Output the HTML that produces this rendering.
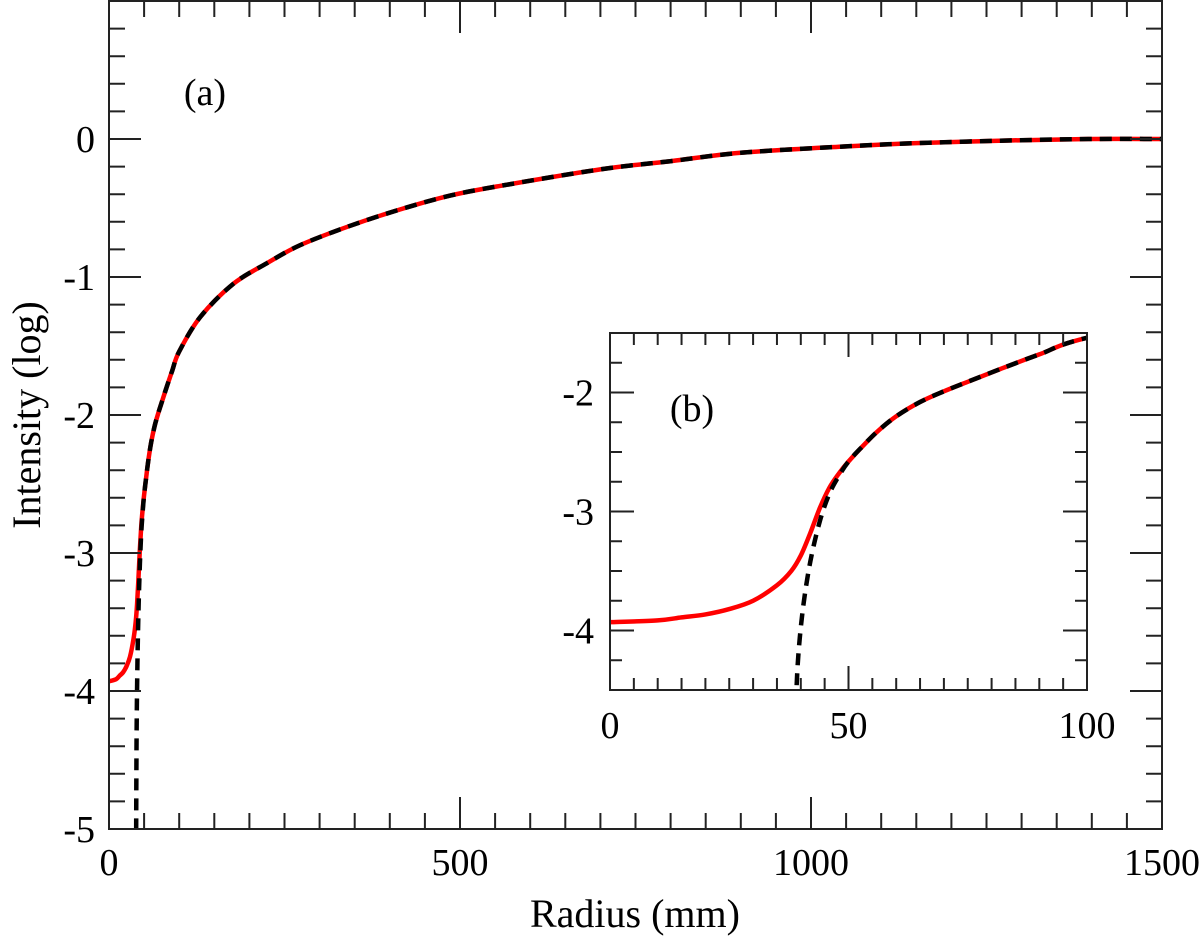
<!DOCTYPE html>
<html><head><meta charset="utf-8"><style>
html,body{margin:0;padding:0;background:#fff;}
svg{display:block;font-family:"Liberation Serif",serif;}
</style></head><body>
<svg id="chart" width="1200" height="943" viewBox="0 0 1200 943" xmlns="http://www.w3.org/2000/svg">
<defs>
<clipPath id="clipMain"><rect x="109" y="1" width="1053" height="828"/></clipPath>
<clipPath id="clipInset"><rect x="610" y="333" width="477" height="357"/></clipPath>
</defs>
<g id="main"></g>
<g id="inset"></g>
<text x="205" y="105" font-size="38" text-anchor="middle">(a)</text>
<text x="692" y="421" font-size="38" text-anchor="middle">(b)</text>
<text x="635" y="927" font-size="40" text-anchor="middle">Radius (mm)</text>
<text transform="translate(40,415) rotate(-90)" font-size="40" text-anchor="middle">Intensity (log)</text>
</svg>
<script>
// Data
const redR = [0,10,15,20,25,30,35,38,40,42,44,46,48,50,53,56,60,65,70,75,82,90,100,130,177,225,272,343,415,486,557,700,801,900,1044,1150,1288,1400,1500];
const redY = [-3.93,-3.915,-3.89,-3.865,-3.82,-3.75,-3.62,-3.5,-3.37,-3.18,-2.97,-2.8,-2.68,-2.58,-2.45,-2.33,-2.2,-2.08,-1.99,-1.91,-1.80,-1.68,-1.54,-1.29,-1.05,-0.90,-0.77,-0.63,-0.51,-0.41,-0.34,-0.22,-0.16,-0.10,-0.055,-0.03,-0.01,0,0];
const blackR = [38.5,39,39.5,40.5,42,44,46,48,50,53,56,60,65,70,75,82,90,100,130,177,225,272,343,415,486,557,700,801,900,1044,1150,1288,1400,1500];
const blackY = [-5.3,-4.6,-4.2,-3.8,-3.42,-3.08,-2.85,-2.7,-2.58,-2.45,-2.33,-2.2,-2.08,-1.99,-1.91,-1.80,-1.68,-1.54,-1.29,-1.05,-0.90,-0.77,-0.63,-0.51,-0.41,-0.34,-0.22,-0.16,-0.10,-0.055,-0.03,-0.01,0,0];
const mainXTicks = [0,500,1000,1500];
const mainYTicks = [0,-1,-2,-3,-4,-5];
const insetXTicks = [0,50,100];
const insetYTicks = [-2,-3,-4];

const NS="http://www.w3.org/2000/svg";
function mk(parent,tag,attrs){const e=document.createElementNS(NS,tag);for(const k in attrs)e.setAttribute(k,attrs[k]);parent.appendChild(e);return e;}

function smoothPath(p){
  let d="M"+p[0][0].toFixed(2)+","+p[0][1].toFixed(2);
  for(let i=0;i<p.length-1;i++){
    const p0=p[i-1]||p[i],p1=p[i],p2=p[i+1],p3=p[i+2]||p2;
    const c1x=p1[0]+(p2[0]-p0[0])/6,c1y=p1[1]+(p2[1]-p0[1])/6;
    const c2x=p2[0]-(p3[0]-p1[0])/6,c2y=p2[1]-(p3[1]-p1[1])/6;
    d+=`C${c1x.toFixed(2)},${c1y.toFixed(2)} ${c2x.toFixed(2)},${c2y.toFixed(2)} ${p2[0].toFixed(2)},${p2[1].toFixed(2)}`;
  }
  return d;
}

function drawAxes(g,cfg){
  const {x0,x1,y0,y1,xmin,xmax,ymin,ymax,xMinor,yMinor,majLen,minLen,xTicks,yTicks,clip,name,labDy,labDx}=cfg;
  const sx=v=>x0+(v-xmin)/(xmax-xmin)*(x1-x0);
  const sy=v=>y1-(v-ymin)/(ymax-ymin)*(y1-y0);
  const toPts=(rs,ys)=>rs.map((r,i)=>[sx(r),sy(ys[i])]);
  const cg=mk(g,"g",{"clip-path":"url(#"+clip+")"});
  const red=mk(cg,"path",{d:smoothPath(toPts(redR,redY)),fill:"none",stroke:"#ff0000","stroke-width":4.5,"stroke-linejoin":"round"});
  
  
  const blk=mk(cg,"path",{d:smoothPath(toPts(blackR,blackY)),fill:"none",stroke:"#000","stroke-width":4.5,"stroke-dasharray":"12 8"});
  
  
  let d="";
  const eps=1e-6;
  for(let v=xmin;v<=xmax+eps;v+=xMinor){
    const major=xTicks.some(t=>Math.abs(t-v)<eps);const L=major?majLen:minLen;const X=sx(v);
    d+=`M${X},${y1}v${-L}M${X},${y0}v${L}`;
  }
  const ystart=Math.ceil(ymin/yMinor-eps)*yMinor;
  for(let v=ystart;v<=ymax+eps;v+=yMinor){
    const major=yTicks.some(t=>Math.abs(t-v)<eps);const L=major?majLen:minLen;const Y=sy(v);
    d+=`M${x0},${Y}h${L}M${x1},${Y}h${-L}`;
  }
  const tk=mk(g,"path",{d:d,stroke:"#222","stroke-width":2,fill:"none"});
  
  
  const box=mk(g,"rect",{x:x0,y:y0,width:x1-x0,height:y1-y0,fill:"none",stroke:"#222","stroke-width":2});
  
  
  xTicks.forEach(t=>{
    const tx=mk(g,"text",{x:sx(t),y:y1+labDy,"font-size":38,"text-anchor":"middle"});tx.textContent=t;
    
    
  });
  yTicks.forEach(t=>{
    const tx=mk(g,"text",{x:x0-labDx,y:sy(t)+13,"font-size":38,"text-anchor":"end"});tx.textContent=t;
    
    
  });
}
drawAxes(document.getElementById("main"),{x0:109,x1:1162,y0:1,y1:829,xmin:0,xmax:1500,ymin:-5,ymax:1,xMinor:50,yMinor:0.2,majLen:32,minLen:16,xTicks:mainXTicks,yTicks:mainYTicks,clip:"clipMain",name:"main",labDy:46,labDx:14});
drawAxes(document.getElementById("inset"),{x0:610,x1:1087,y0:333,y1:690,xmin:0,xmax:100,ymin:-4.5,ymax:-1.5,xMinor:5,yMinor:0.25,majLen:24,minLen:12,xTicks:insetXTicks,yTicks:insetYTicks,clip:"clipInset",name:"inset",labDy:48,labDx:16});
</script>
</body></html>
